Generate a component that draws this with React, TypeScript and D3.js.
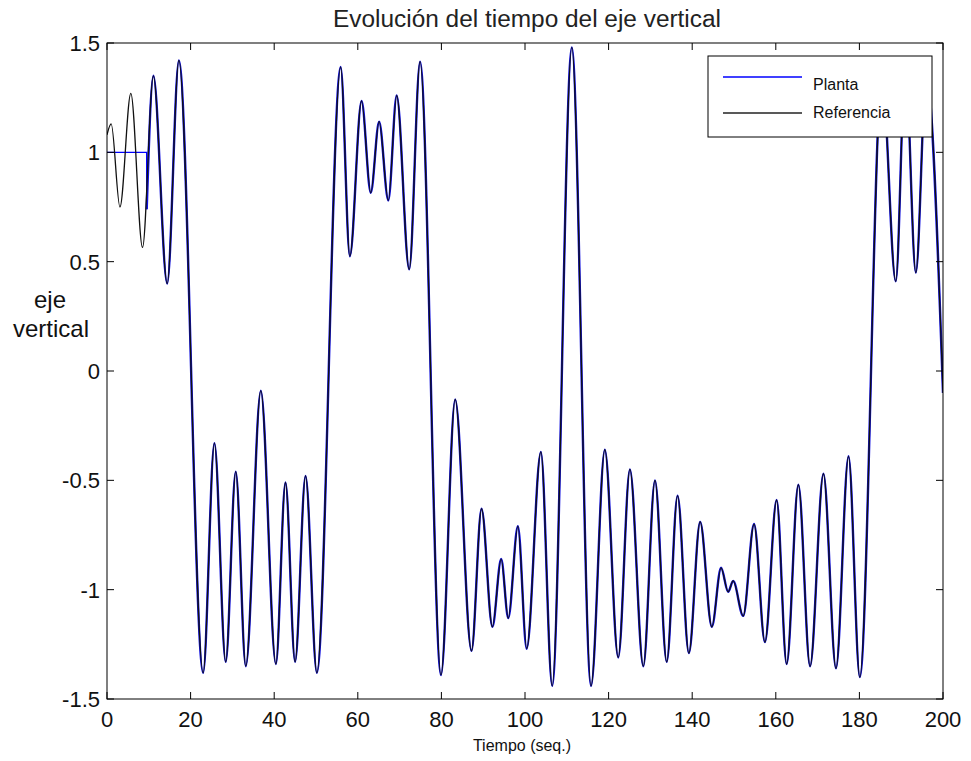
import React from "react";
import * as d3 from "d3";

// Extrema of the "Referencia" signal (time in s, value)
const refTimes = [0, 1.0, 3.1, 5.7, 8.5, 11.1, 14.4, 17.2, 23.0, 25.7, 28.4, 30.8, 33.2, 36.8, 40.4, 42.7, 45.0, 47.5, 50.2, 55.9, 58.1, 60.9, 63.1, 65.1, 67.3, 69.3, 72.3, 74.9, 79.9, 83.3, 87.2, 89.6, 92.2, 94.3, 96.0, 98.3, 100.4, 103.8, 106.5, 111.2, 115.8, 119.1, 122.3, 125.1, 128.3, 131.1, 133.9, 136.5, 139.2, 141.9, 144.7, 146.9, 148.6, 149.8, 152.2, 154.8, 157.4, 160.2, 162.6, 165.4, 168.2, 171.4, 174.4, 177.4, 180.1, 185.4, 188.7, 191.0, 193.5, 196.0, 200];
const refValues = [1.08, 1.13, 0.75, 1.27, 0.565, 1.35, 0.40, 1.42, -1.38, -0.33, -1.33, -0.46, -1.35, -0.09, -1.34, -0.51, -1.33, -0.48, -1.38, 1.39, 0.525, 1.235, 0.815, 1.14, 0.78, 1.26, 0.465, 1.415, -1.39, -0.13, -1.28, -0.63, -1.17, -0.86, -1.13, -0.71, -1.27, -0.37, -1.44, 1.48, -1.44, -0.36, -1.31, -0.45, -1.35, -0.50, -1.33, -0.57, -1.29, -0.69, -1.17, -0.90, -1.01, -0.96, -1.12, -0.70, -1.24, -0.59, -1.34, -0.52, -1.35, -0.47, -1.36, -0.39, -1.40, 1.35, 0.41, 1.40, 0.45, 1.35, -0.10];

// "Planta": held at 1 until the switch, then tracks the reference
const plantaHoldTimes = [0, 9.5, 9.5];
const plantaHoldValues = [1.0, 1.0, 0.74];
const plantaStartIndex = 5; // planta follows the reference from the extremum at t = 11.1

const xTicks = [0, 20, 40, 60, 80, 100, 120, 140, 160, 180, 200];
const yTicks = [-1.5, -1, -0.5, 0, 0.5, 1, 1.5];
const legendLabels = ["Planta", "Referencia"];

const FONT = "'Liberation Sans', Arial, Helvetica, sans-serif";

export default function App() {
  const W = 971, H = 761;
  const L = 107, R = 943, T = 43, B = 699;
  const x = d3.scaleLinear().domain([0, 200]).range([L, R]);
  const y = d3.scaleLinear().domain([-1.5, 1.5]).range([B, T]);

  const ref: [number, number][] = refTimes.map((t, i) => [t, refValues[i]]);
  const plantaHold: [number, number][] = plantaHoldTimes.map((t, i) => [t, plantaHoldValues[i]]);
  const plantaFollow: [number, number][] = [plantaHold[plantaHold.length - 1], ...ref.slice(plantaStartIndex)];

  const curveLine = d3.line<[number, number]>().x(d => x(d[0])).y(d => y(d[1])).curve(d3.curveMonotoneX);
  const linLine = d3.line<[number, number]>().x(d => x(d[0])).y(d => y(d[1]));

  const tickLen = 7;
  const fmt = (v: number) => (v === 0 ? "0" : String(v));

  return (
    <svg width={W} height={H} style={{ position: "absolute", left: 0, top: 0, background: "#fff" }} fontFamily={FONT}>
      <rect x={0} y={0} width={W} height={H} fill="#fff" />
      <defs>
        <clipPath id="plotclip">
          <rect x={L} y={T} width={R - L} height={B - T} />
        </clipPath>
      </defs>

      {/* title */}
      <text x={527} y={27} textAnchor="middle" fontSize={23} fill="#222" textLength={388} lengthAdjust="spacingAndGlyphs">
        Evolución del tiempo del eje vertical
      </text>

      {/* series */}
      <g clipPath="url(#plotclip)" fill="none">
        <path d={linLine(plantaHold) || ""} stroke="#0000ff" strokeWidth={1.4} />
        <path d={curveLine(plantaFollow) || ""} stroke="#1010e0" strokeWidth={2.4} />
        <path d={curveLine(ref) || ""} stroke="#111" strokeWidth={1.3} />
      </g>

      {/* frame */}
      <rect x={L} y={T} width={R - L} height={B - T} fill="none" stroke="#000" strokeWidth={1} />

      {/* x ticks */}
      {xTicks.map(t => (
        <g key={"xt" + t}>
          <line x1={x(t)} x2={x(t)} y1={B} y2={B - tickLen} stroke="#000" />
          <line x1={x(t)} x2={x(t)} y1={T} y2={T + tickLen} stroke="#000" />
          <text x={x(t)} y={727} textAnchor="middle" fontSize={22} fill="#111">{t}</text>
        </g>
      ))}

      {/* y ticks */}
      {yTicks.map(v => (
        <g key={"yt" + v}>
          <line x1={L} x2={L + tickLen} y1={y(v)} y2={y(v)} stroke="#000" />
          <line x1={R} x2={R - tickLen} y1={y(v)} y2={y(v)} stroke="#000" />
          <text x={100} y={y(v) + 8} textAnchor="end" fontSize={22} fill="#111">{fmt(v)}</text>
        </g>
      ))}

      {/* axis labels */}
      <text x={50} y={308} textAnchor="middle" fontSize={24} fill="#111">eje</text>
      <text x={51} y={337} textAnchor="middle" fontSize={24} fill="#111">vertical</text>
      <text x={522} y={751} textAnchor="middle" fontSize={16} fill="#111">Tiempo (seq.)</text>

      {/* legend */}
      <g>
        <rect x={708} y={56} width={224} height={81} fill="#fff" stroke="#000" strokeWidth={1} />
        <line x1={723} x2={802} y1={77} y2={77} stroke="#0000ff" strokeWidth={1.3} />
        <line x1={723} x2={802} y1={113} y2={113} stroke="#222" strokeWidth={1.3} />
        <text x={813} y={90} fontSize={16} fill="#111">{legendLabels[0]}</text>
        <text x={813} y={118} fontSize={16} fill="#111">{legendLabels[1]}</text>
      </g>
    </svg>
  );
}
